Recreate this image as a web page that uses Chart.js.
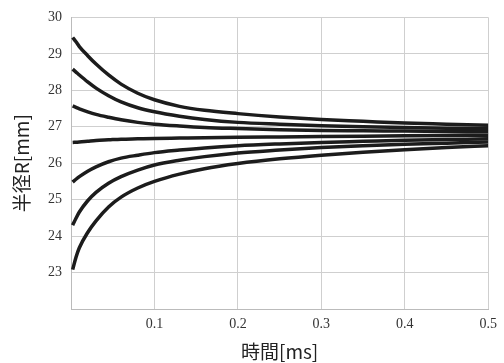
<!DOCTYPE html>
<html>
<head>
<meta charset="utf-8">
<script src="https://cdn.jsdelivr.net/npm/chart.js@4/dist/chart.umd.min.js"></script>
<style>
  html, body { margin: 0; padding: 0; background: #fff; }
  #wrap { width: 504px; height: 363px; }
</style>
</head>
<body>
<div id="wrap"><canvas id="radiusChart" width="504" height="363"></canvas></div>
<script>
const times = [0.002, 0.006, 0.01, 0.02, 0.03, 0.045, 0.06, 0.08, 0.1, 0.13, 0.16, 0.2, 0.25, 0.3, 0.35, 0.4, 0.45, 0.5];

const r1 = [29.45, 29.33, 29.2, 28.95, 28.72, 28.42, 28.17, 27.92, 27.74, 27.56, 27.45, 27.36, 27.27, 27.2, 27.15, 27.1, 27.07, 27.04];
const r2 = [28.58, 28.5, 28.42, 28.23, 28.06, 27.85, 27.68, 27.52, 27.41, 27.29, 27.2, 27.12, 27.07, 27.03, 27.0, 26.98, 26.96, 26.95];
const r3 = [27.57, 27.53, 27.49, 27.41, 27.34, 27.26, 27.19, 27.12, 27.07, 27.02, 26.98, 26.95, 26.92, 26.9, 26.89, 26.88, 26.87, 26.86];
const r4 = [26.57, 26.575, 26.58, 26.6, 26.62, 26.64, 26.66, 26.67, 26.68, 26.69, 26.7, 26.71, 26.72, 26.73, 26.74, 26.75, 26.76, 26.77];
const r5 = [25.48, 25.56, 25.63, 25.78, 25.9, 26.04, 26.14, 26.22, 26.29, 26.36, 26.42, 26.48, 26.53, 26.57, 26.6, 26.63, 26.65, 26.67];
const r6 = [24.3, 24.49, 24.66, 24.97, 25.2, 25.45, 25.63, 25.81, 25.95, 26.08, 26.18, 26.28, 26.36, 26.43, 26.48, 26.52, 26.55, 26.58];
const r7 = [23.08, 23.42, 23.68, 24.1, 24.42, 24.8, 25.07, 25.32, 25.5, 25.7, 25.85, 25.99, 26.12, 26.22, 26.3, 26.37, 26.43, 26.48];

const series = [r1, r2, r3, r4, r5, r6, r7];

const yMin = 22;
const yMax = 30;
const xMin = 0;
const xMax = 0.5;

const tickFont = { family: "'Liberation Serif', 'DejaVu Serif', serif", size: 14 };
const titleFont = { family: "'Noto Sans CJK JP', 'Noto Sans', sans-serif", size: 19 };

const datasets = series.map((vals) => ({
  data: times.map((t, i) => ({ x: t, y: vals[i] })),
  borderColor: "#1c1c1c",
  borderWidth: 3.5,
  pointRadius: 0,
  fill: false,
  cubicInterpolationMode: "monotone"
}));

new Chart(document.getElementById("radiusChart"), {
  type: "line",
  data: { datasets },
  options: {
    responsive: false,
    animation: false,
    layout: { padding: { left: 0, right: 13, top: 16, bottom: 0 } },
    plugins: {
      legend: { display: false },
      tooltip: { enabled: false }
    },
    scales: {
      x: {
        type: "linear",
        min: xMin,
        max: xMax,
        afterFit: (scale) => { scale.height = 54; },
        ticks: {
          stepSize: 0.1,
          padding: 7,
          color: "#333",
          font: tickFont,
          maxRotation: 0,
          callback: (v) => (v === 0 ? "" : v.toFixed(1))
        },
        grid: { color: "#cfcfcf", drawTicks: false },
        border: { color: "#bbb" },
        title: {
          display: true,
          text: "時間[ms]",
          color: "#222",
          font: titleFont,
          padding: 0
        }
      },
      y: {
        min: yMin,
        max: yMax,
        afterFit: (scale) => { scale.width = 71; },
        ticks: {
          stepSize: 1,
          padding: 9,
          color: "#333",
          font: tickFont,
          callback: (v) => (v === yMin ? "" : v)
        },
        grid: { color: "#cfcfcf", drawTicks: false },
        border: { color: "#bbb" },
        title: {
          display: true,
          text: "半径R[mm]",
          color: "#222",
          font: titleFont,
          padding: { top: 10, bottom: 0 }
        }
      }
    }
  }
});
</script>
</body>
</html>
